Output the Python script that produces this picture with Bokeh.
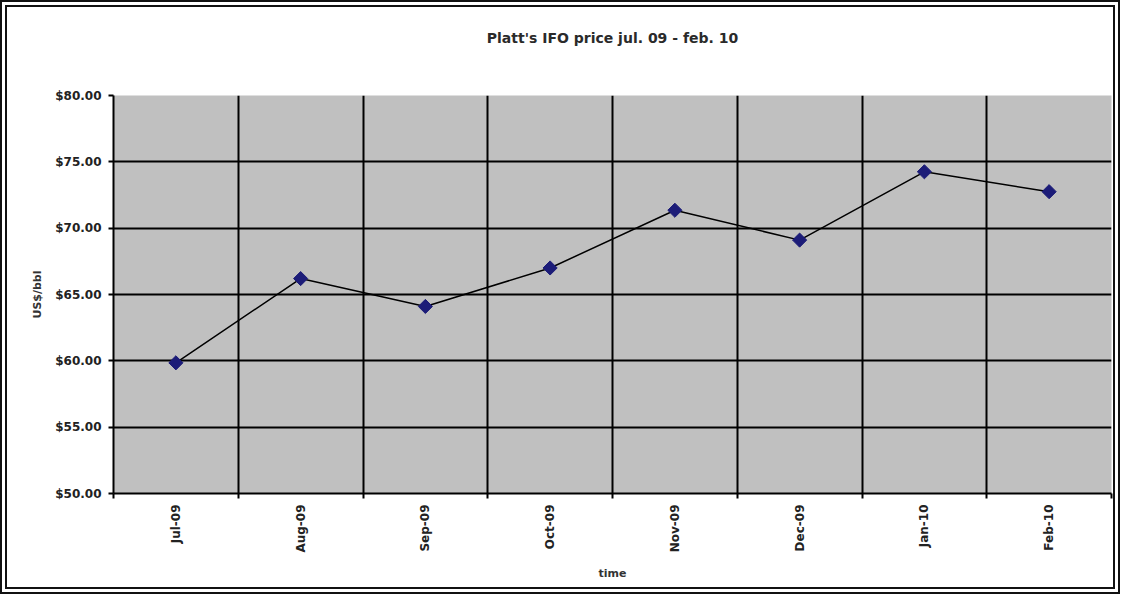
from bokeh.plotting import figure
from bokeh.models import FixedTicker, NumeralTickFormatter, ColumnDataSource, Title
from bokeh.embed import file_html
from bokeh.resources import INLINE
import math

months = ["Jul-09", "Aug-09", "Sep-09", "Oct-09", "Nov-09", "Dec-09", "Jan-10", "Feb-10"]
prices = [59.85, 66.2, 64.1, 67.0, 71.35, 69.1, 74.25, 72.75]
y_ticks = [50, 55, 60, 65, 70, 75, 80]

xs = [i + 0.5 for i in range(len(months))]
src = ColumnDataSource(dict(x=xs, y=prices, m=months))

FONT = "DejaVu Sans"

p = figure(width=1120, height=594, output_backend="svg", toolbar_location=None,
           x_range=(0, len(months)), y_range=(50, 80),
           min_border_left=106, min_border_right=16, min_border_top=88, min_border_bottom=108,
           title="Platt's IFO price jul. 09 - feb. 10")

p.background_fill_color = "#c0c0c0"
p.border_fill_color = "white"
p.outline_line_color = None

p.title.align = "center"
p.title.text_font = FONT
p.title.text_font_size = "14px"
p.title.text_font_style = "bold"
p.title.text_color = "#2a2a2a"
p.title.standoff = 0

# spacer between title and plot area
p.add_layout(Title(text=" ", text_font_size="12px", standoff=34), "above")

# Grid
p.xgrid.ticker = FixedTicker(ticks=list(range(len(months) + 1)))
p.ygrid.ticker = FixedTicker(ticks=y_ticks)
for g in (p.xgrid, p.ygrid):
    g.grid_line_color = "black"
    g.grid_line_width = 2
    g.grid_line_alpha = 1.0

# X axis
xa = p.xaxis[0]
xa.ticker = FixedTicker(ticks=xs, minor_ticks=list(range(len(months) + 1)))
xa.major_label_overrides = {x: m for x, m in zip(xs, months)}
xa.major_label_orientation = math.pi / 2
xa.major_tick_line_color = None
xa.minor_tick_line_color = "black"
xa.minor_tick_line_width = 2
xa.minor_tick_in = 0
xa.minor_tick_out = 5
xa.axis_line_color = "black"
xa.axis_line_width = 2
xa.axis_label = "time"
xa.axis_label_text_font = FONT
xa.axis_label_text_font_size = "11px"
xa.axis_label_text_font_style = "bold"
xa.axis_label_text_color = "#333333"
xa.axis_label_standoff = 11
xa.major_label_text_font = FONT
xa.major_label_text_font_size = "12px"
xa.major_label_text_font_style = "bold"
xa.major_label_text_color = "#222222"
xa.major_label_standoff = 5

# Y axis
ya = p.yaxis[0]
ya.ticker = FixedTicker(ticks=y_ticks)
ya.formatter = NumeralTickFormatter(format="$0.00")
ya.major_tick_in = 0
ya.major_tick_out = 5
ya.major_tick_line_width = 2
ya.minor_tick_line_color = None
ya.axis_line_color = "black"
ya.axis_line_width = 2
ya.axis_label = "US$/bbl"
ya.axis_label_text_font = FONT
ya.axis_label_text_font_size = "11px"
ya.axis_label_text_font_style = "bold"
ya.axis_label_text_color = "#333333"
ya.axis_label_standoff = 8
ya.major_label_text_font = FONT
ya.major_label_text_font_size = "12px"
ya.major_label_text_font_style = "bold"
ya.major_label_text_color = "#222222"
ya.major_label_standoff = 7

p.line("x", "y", source=src, line_color="black", line_width=1.5)
p.scatter("x", "y", source=src, marker="square", angle=math.pi / 4, size=10,
          fill_color="#1c1c78", line_color="#1c1c78")

p.styles = {"border": "7px double #111111", "box-sizing": "border-box"}

open("out.html", "w").write(file_html(p, INLINE))
